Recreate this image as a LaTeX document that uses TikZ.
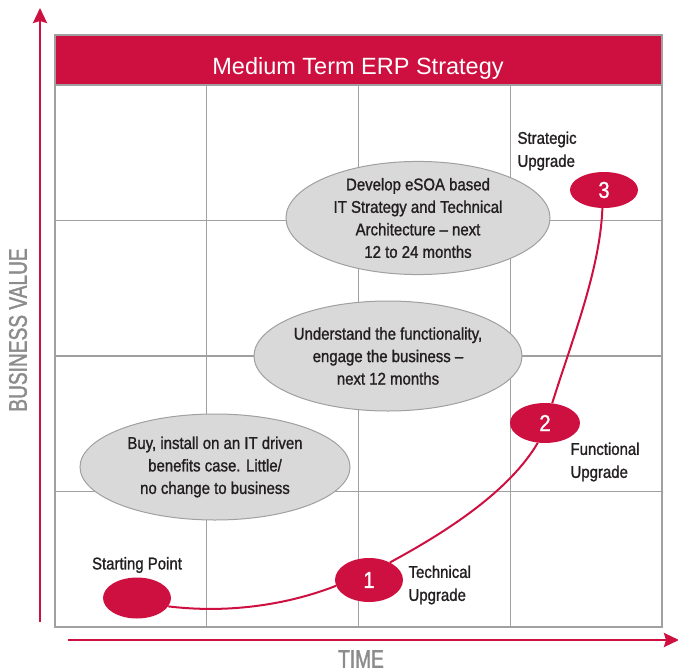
\documentclass[tikz,border=0pt]{standalone}
\usepackage{fontspec}
\setmainfont{Liberation Sans}[FakeStretch=0.88,FakeBold=1.2]
\newfontfamily\titlefont{Liberation Sans}
\newfontfamily\axisfont{Liberation Sans}[FakeStretch=0.75,FakeBold=1.5]
\usepackage{tikz}
\usetikzlibrary{arrows.meta,positioning,shapes}
\definecolor{erpred}{RGB}{206,16,64}
\definecolor{gridgray}{RGB}{160,160,160}
\definecolor{bubblegray}{RGB}{217,217,217}
\definecolor{axisgray}{RGB}{140,140,140}
\definecolor{textdark}{RGB}{35,31,32}
\tikzset{
  gridline/.style={draw=gridgray, line width=1.4pt},
  axis/.style={-{Stealth[length=15pt,width=14pt,inset=2pt]}, line width=2.6pt, erpred},
  axislabel/.style={text=axisgray, inner sep=1pt, font=\axisfont\fontsize{25.5}{26}\selectfont},
  phase/.style={ellipse, draw=gridgray, line width=1pt, fill=bubblegray, inner sep=0pt,
    align=center, text=textdark, font=\fontsize{17}{22.5}\selectfont},
  milestone/.style={ellipse, fill=erpred, inner sep=0pt, text=white,
    font=\fontsize{23}{23}\selectfont},
  stagelabel/.style={align=left, text=textdark, font=\fontsize{17}{23}\selectfont},
  upgradepath/.style={erpred, line width=2pt}
}
\begin{document}
\begin{tikzpicture}[x=1pt,y=-1pt]
  \useasboundingbox (0,0) rectangle (678,672);
  % header and grid
  \fill[erpred] (55,35) rectangle (662,85);
  \node[text=white, font=\titlefont\fontsize{23.5}{24}\selectfont] (title) at (358,68) {Medium Term ERP Strategy};
  \foreach \x in {55,206.75,358.5,510.25,662}
    \draw[gridline] (\x,85) -- (\x,627);
  \foreach \y in {85,220.5,356,491.5,627}
    \draw[gridline] (55,\y) -- (662,\y);
  \draw[gridline] (55,35) rectangle (662,627);
  % axes
  \draw[axis] (40,622) -- (40,8);
  \draw[axis] (68,640) -- (679,640);
  \node[axislabel, rotate=90] (value) at (18,330) {BUSINESS VALUE};
  \node[axislabel] (time) at (361,659) {TIME};
  % phases
  \node[phase, minimum width=264pt, minimum height=110pt] (plan) at (418,218)
    {Develop eSOA based\\IT Strategy and Technical\\Architecture -- next\\12 to 24 months};
  \node[phase, minimum width=268pt, minimum height=110pt] (engage) at (388,356)
    {Understand the functionality,\\engage the business --\\next 12 months};
  \node[phase, minimum width=270pt, minimum height=106pt] (install) at (215,467)
    {Buy, install on an IT driven\\benefits case. Little/\\no change to business};
  % milestones
  \node[milestone, minimum width=68pt, minimum height=41pt] (start) at (137,598) {};
  \node[milestone, minimum width=68pt, minimum height=44pt] (tech) at (369,580) {1};
  \node[milestone, minimum width=70pt, minimum height=40pt] (func) at (545,423) {2};
  \node[milestone, minimum width=68pt, minimum height=36pt] (strat) at (604,190) {3};
  \node[stagelabel] (startlbl) at (137,565) {Starting Point};
  \node[stagelabel, anchor=north west] (techlbl) at (405,562) {Technical\\Upgrade};
  \node[stagelabel, anchor=north west] (funclbl) at (567,439) {Functional\\Upgrade};
  \node[stagelabel, anchor=north west] (stratlbl) at (514,128) {Strategic\\Upgrade};
  % upgrade path
  \draw[upgradepath] (start.-15) .. controls (240,615) and (300,600) .. (tech.190);
  \draw[upgradepath] (tech.40) .. controls (450,530) and (510,490) .. (func.250);
  \draw[upgradepath] (func.70) .. controls (572,340) and (600,270) .. (strat.265);
\end{tikzpicture}
\end{document}
